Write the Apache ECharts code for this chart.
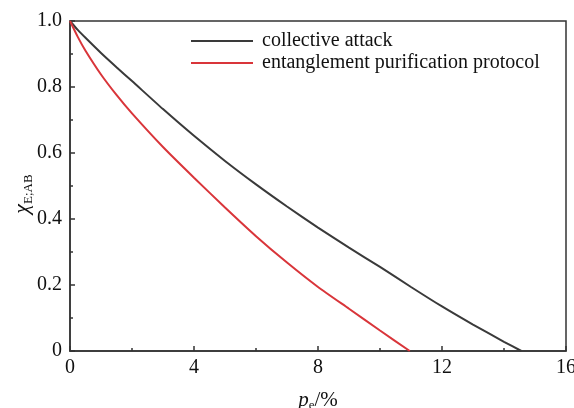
<!DOCTYPE html>
<html><head><meta charset="utf-8">
<script src="https://cdn.jsdelivr.net/npm/echarts@6/dist/echarts.min.js"></script>
<style>html,body{margin:0;padding:0;background:#fff}#c{width:574px;height:408px}</style>
</head><body><div id="c"></div>
<script>
var xTicks = [0, 4, 8, 12, 16];
var yTicks = [0, 0.2, 0.4, 0.6, 0.8, 1.0];
var collectiveX = [0, 0.25, 0.5, 1, 1.5, 2, 3, 4, 5, 6, 7, 8, 9, 10, 11, 12, 13, 14, 14.56];
var collectiveY = [1.0, 0.973, 0.949, 0.903, 0.86, 0.818, 0.733, 0.652, 0.576, 0.505, 0.438, 0.374, 0.313, 0.255, 0.194, 0.135, 0.08, 0.028, 0];
var purifX = [0, 0.25, 0.5, 1, 1.5, 2, 3, 4, 5, 6, 7, 8, 9, 10, 10.96];
var purifY = [1.0, 0.952, 0.91, 0.838, 0.776, 0.72, 0.618, 0.525, 0.435, 0.348, 0.268, 0.194, 0.128, 0.062, 0];
var seriesNames = ['collective attack', 'entanglement purification protocol'];

function pairs(xs, ys){ return xs.map(function(x,i){return [x, ys[i]];}); }
var serif = 'Liberation Serif';
var chart = echarts.init(document.getElementById('c'));
chart.setOption({
  animation: false,
  grid: {left: 70, right: 8, top: 21, bottom: 57, show: true, borderColor: '#333', borderWidth: 1.5,
         containLabel: false, outerBoundsMode: 'none'},
  legend: {
    orient: 'vertical', left: 186, top: 26, itemWidth: 62, itemHeight: 2, itemGap: 2,
    icon: 'rect',
    data: seriesNames,
    textStyle: {fontFamily: serif, fontSize: 20, color: '#111', padding: [0,0,0,4]}
  },
  xAxis: {
    type: 'value', min: 0, max: 16, interval: 4,
    axisLine: {lineStyle: {color: '#333', width: 1.5}},
    axisTick: {inside: true, length: 5, lineStyle: {color: '#333', width: 1.5}},
    minorTick: {show: true, splitNumber: 2, length: 3, lineStyle: {color: '#333', width: 1.5}},
    splitLine: {show: false},
    axisLabel: {fontFamily: serif, fontSize: 20, color: '#111', margin: 7,
      formatter: function(v){ return xTicks.indexOf(v) >= 0 ? String(v) : ''; }},
    name: '{i|p}{s|e}{n|/%}', nameLocation: 'middle', nameGap: 38, nameMoveOverlap: false,
    nameTextStyle: {rich: {
      i: {fontFamily: serif, fontStyle: 'italic', fontSize: 21, color: '#111'},
      s: {fontFamily: serif, fontSize: 13, color: '#111', padding: [10,0,0,0]},
      n: {fontFamily: serif, fontSize: 21, color: '#111'}
    }}
  },
  yAxis: {
    type: 'value', min: 0, max: 1, interval: 0.2,
    axisLine: {show: true, lineStyle: {color: '#333', width: 1.5}},
    axisTick: {show: true, inside: true, length: 5, lineStyle: {color: '#333', width: 1.5}},
    minorTick: {show: true, splitNumber: 2, length: 3, lineStyle: {color: '#333', width: 1.5}},
    splitLine: {show: false},
    axisLabel: {fontFamily: serif, fontSize: 20, color: '#111', margin: 8,
      formatter: function(v){ return v === 0 ? '0' : v.toFixed(1); }},
    name: '{i|χ}{s|E;AB}', nameLocation: 'middle', nameGap: 35, nameRotate: 90, nameMoveOverlap: false,
    nameTextStyle: {padding: [0, 16, 0, 0], rich: {
      i: {fontFamily: serif, fontStyle: 'italic', fontSize: 22, color: '#111'},
      s: {fontFamily: serif, fontSize: 13, color: '#111', padding: [12,0,0,0]}
    }}
  },
  series: [
    {name: seriesNames[0], type: 'line', data: pairs(collectiveX, collectiveY), symbol: 'none', smooth: 0.2,
     lineStyle: {color: '#3a3a3a', width: 2}, itemStyle: {color: '#3a3a3a'}},
    {name: seriesNames[1], type: 'line', data: pairs(purifX, purifY), symbol: 'none', smooth: 0.2,
     lineStyle: {color: '#d9353a', width: 2}, itemStyle: {color: '#d9353a'}}
  ]
});
</script></body></html>
